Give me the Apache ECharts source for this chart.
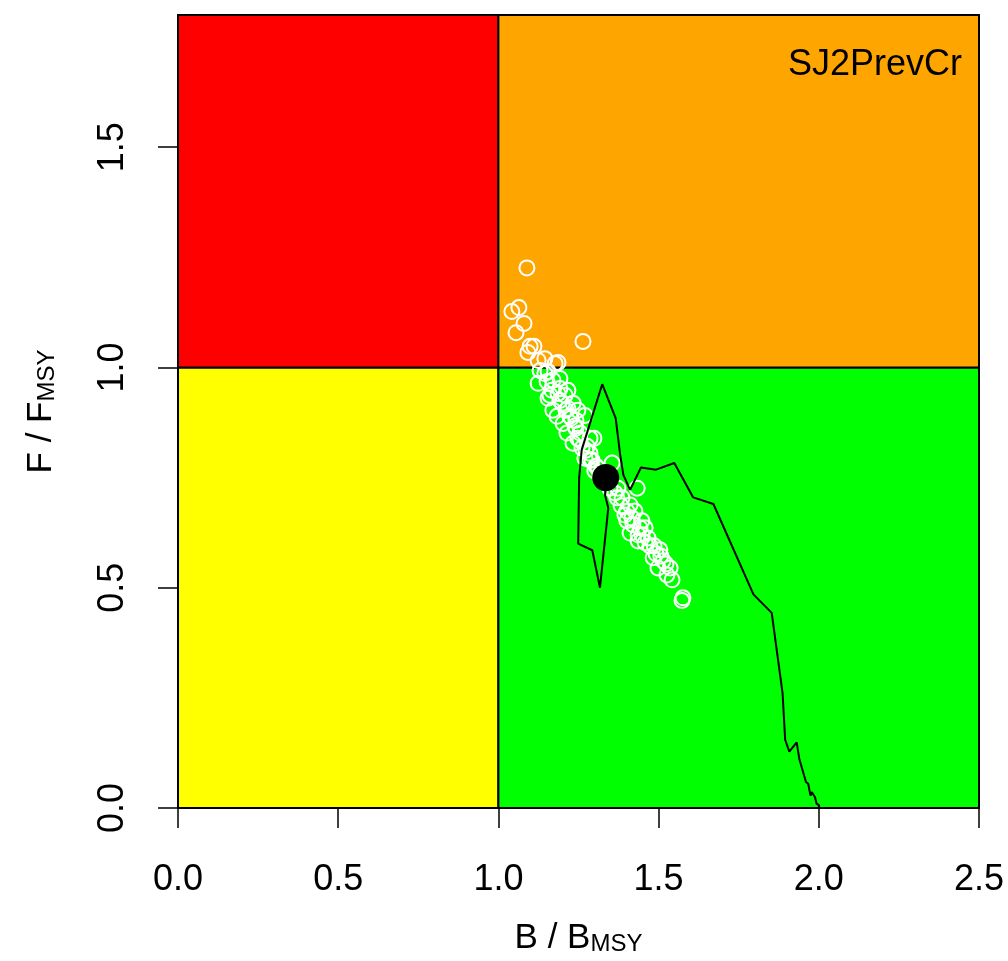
<!DOCTYPE html>
<html>
<head>
<meta charset="utf-8">
<script src="https://cdn.jsdelivr.net/npm/echarts@6/dist/echarts.min.js"></script>
<style>
  html, body { margin: 0; padding: 0; background: #fff; }
  #chart { width: 1008px; height: 961px; }
</style>
</head>
<body>
<div id="chart"></div>
<script>
// axis ranges and ticks
var xTicks = [0, 0.5, 1, 1.5, 2, 2.5];
var yTicks = [0, 0.5, 1, 1.5];
var bMax = 2.5, fMax = 1.8;
var bRef = 1, fRef = 1;
var stockName = 'SJ2PrevCr';

// historical trajectory B/Bmsy, F/Fmsy
var trajB = [2.000, 2.001, 1.993, 1.988, 1.978, 1.974, 1.967, 1.960, 1.939, 1.931, 1.908, 1.895, 1.887, 1.853, 1.796,
             1.671, 1.608, 1.549, 1.492, 1.445, 1.411, 1.390, 1.380, 1.366, 1.324, 1.260, 1.252, 1.249, 1.293,
             1.317, 1.343, 1.333, 1.335];
var trajF = [0.000, 0.006, 0.010, 0.025, 0.036, 0.028, 0.055, 0.059, 0.112, 0.149, 0.128, 0.155, 0.260, 0.443, 0.485,
             0.690, 0.705, 0.783, 0.768, 0.773, 0.722, 0.756, 0.802, 0.885, 0.962, 0.813, 0.749, 0.600, 0.585,
             0.500, 0.681, 0.710, 0.738];

// terminal year samples
var sampB = [1.089, 1.042, 1.064, 1.080, 1.055, 1.099, 1.111, 1.092, 1.145, 1.186, 1.264, 1.124, 1.124, 1.155,
             1.177, 1.152, 1.170, 1.161, 1.186, 1.208, 1.170, 1.199, 1.233, 1.183, 1.223, 1.270, 1.202, 1.239,
             1.214, 1.255, 1.233, 1.286, 1.277, 1.261, 1.270, 1.286, 1.355, 1.301, 1.311, 1.326, 1.342, 1.364,
             1.348, 1.433, 1.373, 1.386, 1.411, 1.426, 1.395, 1.448, 1.420, 1.458, 1.436, 1.401, 1.411, 1.448,
             1.458, 1.436, 1.504, 1.483, 1.514, 1.498, 1.536, 1.526, 1.542, 1.576, 1.573, 1.145, 1.192, 1.217,
             1.242, 1.248, 1.292, 1.473, 1.492, 1.167, 1.192, 1.211, 1.227, 1.242, 1.255, 1.273, 1.286, 1.305,
             1.317, 1.370, 1.383, 1.401, 1.417, 1.442, 1.467, 1.486, 1.507, 1.523, 1.192, 1.217, 1.248, 1.298,
             1.130, 1.155];
var sampF = [1.226, 1.127, 1.136, 1.100, 1.079, 1.048, 1.048, 1.034, 1.020, 1.011, 1.059, 1.016, 0.964, 0.991,
             1.009, 0.968, 0.971, 0.937, 0.941, 0.937, 0.903, 0.919, 0.919, 0.889, 0.889, 0.891, 0.873, 0.867,
             0.851, 0.851, 0.828, 0.839, 0.821, 0.817, 0.794, 0.805, 0.783, 0.765, 0.771, 0.753, 0.738, 0.715,
             0.726, 0.726, 0.726, 0.704, 0.688, 0.674, 0.665, 0.652, 0.643, 0.636, 0.620, 0.652, 0.624, 0.620,
             0.602, 0.606, 0.586, 0.568, 0.561, 0.545, 0.545, 0.529, 0.518, 0.477, 0.471, 0.986, 0.952, 0.907,
             0.880, 0.839, 0.790, 0.595, 0.577, 0.948, 0.925, 0.903, 0.885, 0.862, 0.835, 0.812, 0.790, 0.776,
             0.758, 0.704, 0.686, 0.674, 0.658, 0.636, 0.613, 0.595, 0.572, 0.554, 0.975, 0.948, 0.903, 0.839,
             0.993, 0.930];

// current estimate
var currB = 1.335, currF = 0.750;

var font = 'Liberation Sans, Arial, sans-serif';

function pairs(a, b) {
    var out = [];
    for (var i = 0; i < a.length; i++) out.push([a[i], b[i]]);
    return out;
}

function quad(x0, y0, x1, y1, color) {
    return [
        { coord: [x0, y0], itemStyle: { color: color, borderColor: '#000', borderWidth: 2, opacity: 1 } },
        { coord: [x1, y1] }
    ];
}

var axisNameRich = {
    n: { fontSize: 35, lineHeight: 35, verticalAlign: 'top', fontFamily: font, color: '#000' },
    s: { fontSize: 24, lineHeight: 24, verticalAlign: 'bottom', padding: [17, 0, 0, 0], fontFamily: font, color: '#000' }
};

var myChart = echarts.init(document.getElementById('chart'));
var option = {
    animation: false,
    backgroundColor: '#fff',
    grid: { left: 178, right: 29, top: 15, bottom: 150 },
    xAxis: {
        type: 'value',
        min: 0,
        max: bMax,
        interval: 0.5,
        name: '{n|B / B}{s|MSY}',
        nameLocation: 'middle',
        nameGap: 113,
        nameTextStyle: { rich: axisNameRich },
        axisLine: { show: true, onZero: false, lineStyle: { color: '#000', width: 1.5 } },
        axisTick: { show: true, length: 20, lineStyle: { color: '#000', width: 1.5 }, customValues: xTicks },
        axisLabel: {
            customValues: xTicks,
            margin: 54,
            fontSize: 36,
            fontFamily: font,
            color: '#000',
            formatter: function (v) { return v.toFixed(1); }
        },
        splitLine: { show: false }
    },
    yAxis: {
        type: 'value',
        min: 0,
        max: fMax,
        interval: 0.5,
        name: '{n|F / F}{s|MSY}',
        nameLocation: 'middle',
        nameRotate: 90,
        nameGap: 119,
        nameTextStyle: { rich: axisNameRich },
        axisLine: { show: true, onZero: false, lineStyle: { color: '#000', width: 1.5 } },
        axisTick: { show: true, length: 20, lineStyle: { color: '#000', width: 1.5 }, customValues: yTicks },
        axisLabel: {
            customValues: yTicks,
            rotate: 90,
            margin: 47,
            fontSize: 36,
            fontFamily: font,
            color: '#000',
            formatter: function (v) { return v.toFixed(1); }
        },
        splitLine: { show: false }
    },
    graphic: [{
        type: 'text',
        z: 100,
        x: 962,
        y: 65,
        style: {
            text: stockName,
            fontSize: 36,
            fontFamily: font,
            fill: '#000',
            align: 'right',
            verticalAlign: 'middle'
        }
    }],
    series: [
        {
            type: 'line',
            data: [],
            silent: true,
            z: 0,
            markArea: {
                silent: true,
                data: [
                    quad(0, 0, bRef, fRef, '#ffff00'),
                    quad(bRef, 0, bMax, fRef, '#00ff00'),
                    quad(0, fRef, bRef, fMax, '#ff0000'),
                    quad(bRef, fRef, bMax, fMax, '#ffa500')
                ]
            }
        },
        {
            type: 'scatter',
            data: pairs(sampB, sampF),
            symbol: 'circle',
            symbolSize: 15,
            z: 3,
            itemStyle: { color: 'rgba(0,0,0,0)', borderColor: '#fff', borderWidth: 2, opacity: 1 }
        },
        {
            type: 'line',
            data: pairs(trajB, trajF),
            showSymbol: false,
            z: 4,
            lineStyle: { color: '#000', width: 2 }
        },
        {
            type: 'scatter',
            data: [[currB, currF]],
            symbol: 'circle',
            symbolSize: 27,
            z: 5,
            itemStyle: { color: '#000', opacity: 1 }
        }
    ]
};
myChart.setOption(option);
</script>
</body>
</html>
